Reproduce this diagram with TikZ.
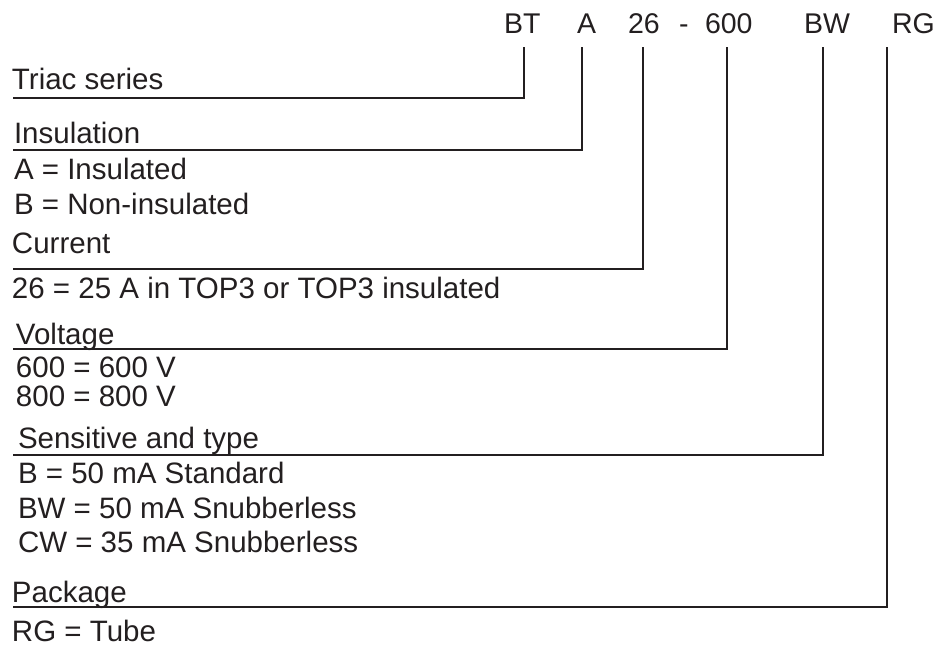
\documentclass[tikz,border=0pt]{standalone}
\usepackage{fontspec}
\setmainfont{Liberation Sans}
\definecolor{ink}{HTML}{231F20}
\begin{document}
\begin{tikzpicture}[x=1pt,y=-1pt,
  lbl/.style={anchor=base west,inner sep=0pt,outer sep=0pt,text=ink,font=\fontsize{29.5}{29.5}\selectfont},
  code/.style={anchor=base west,inner sep=0pt,outer sep=0pt,text=ink,font=\fontsize{28.5}{28.5}\selectfont},
  conn/.style={draw=ink,line width=2pt}]
\useasboundingbox (0,0) rectangle (944,648);
% top code
\node[code] (cBT) at (504,33) {BT};
\node[code] (cA) at (577,33) {A};
\node[code] (c26) at (628,33) {26};
\node[code] (cdash) at (679,33) {-};
\node[code] (c600) at (705,33) {600};
\node[code] (cBW) at (804,33) {BW};
\node[code] (cRG) at (892,33) {RG};
% labels
\node[lbl] (l1) at (12,89) {Triac series};
\node[lbl] (l2) at (14,143) {Insulation};
\node[lbl] (l2a) at (14,179) {A = Insulated};
\node[lbl] (l2b) at (14,214) {B = Non-insulated};
\node[lbl] (l3) at (12,253) {Current};
\node[lbl] (l3a) at (12,298) {26 = 25 A in TOP3 or TOP3 insulated};
\node[lbl] (l4) at (16,344) {Voltage};
\node[lbl] (l4a) at (16,377) {600 = 600 V};
\node[lbl] (l4b) at (16,406) {800 = 800 V};
\node[lbl] (l5) at (18,448) {Sensitive and type};
\node[lbl] (l5a) at (18,483) {B = 50 mA Standard};
\node[lbl] (l5b) at (18,518) {BW = 50 mA Snubberless};
\node[lbl] (l5c) at (18,552) {CW = 35 mA Snubberless};
\node[lbl] (l6) at (12,602) {Package};
\node[lbl] (l6a) at (12,641) {RG = Tube};
% connector points
\coordinate (s1) at (13,97.5); \coordinate (k1) at (524,97.5); \coordinate (t1) at (524,47);
\coordinate (s2) at (13,150);  \coordinate (k2) at (582,150);  \coordinate (t2) at (582,47);
\coordinate (s3) at (13,269);  \coordinate (k3) at (643,269);  \coordinate (t3) at (643,47);
\coordinate (s4) at (13,349);  \coordinate (k4) at (727,349);  \coordinate (t4) at (727,47);
\coordinate (s5) at (13,455);  \coordinate (k5) at (823,455);  \coordinate (t5) at (823,47);
\coordinate (s6) at (13,607);  \coordinate (k6) at (887,607);  \coordinate (t6) at (887,47);
\draw[conn] (s1) -- (k1) -- (t1);
\draw[conn] (s2) -- (k2) -- (t2);
\draw[conn] (s3) -- (k3) -- (t3);
\draw[conn] (s4) -- (k4) -- (t4);
\draw[conn] (s5) -- (k5) -- (t5);
\draw[conn] (s6) -- (k6) -- (t6);
\end{tikzpicture}
\end{document}
